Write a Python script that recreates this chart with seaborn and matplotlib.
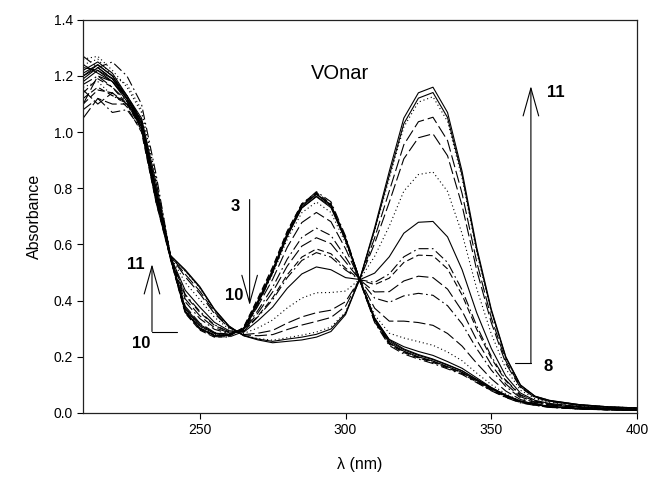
import numpy as np
import pandas as pd
import matplotlib
matplotlib.use("Agg")
import matplotlib.pyplot as plt
import seaborn as sns

# wavelength grid (nm)
WAVELENGTH = [210, 215, 220, 225, 230, 235, 240, 245, 250, 255, 260, 265, 270, 275, 280,
              285, 290, 295, 300, 305, 310, 315, 320, 325, 330, 335, 340, 345, 350, 355,
              360, 365, 370, 380, 390, 400]

SPEC_01 = [1.22, 1.25, 1.21, 1.13, 1.05, 0.82, 0.56, 0.51, 0.45, 0.37, 0.31, 0.275, 0.26, 0.25, 0.255,
           0.26, 0.27, 0.29, 0.35, 0.48, 0.66, 0.86, 1.05, 1.14, 1.16, 1.07, 0.86, 0.59, 0.37, 0.20,
           0.10, 0.06, 0.045, 0.03, 0.022, 0.018]
SPEC_02 = [1.20, 1.24, 1.20, 1.12, 1.04, 0.80, 0.56, 0.507, 0.447, 0.368, 0.309, 0.276, 0.263, 0.255, 0.263,
           0.27, 0.28, 0.299, 0.355, 0.48, 0.653, 0.845, 1.03, 1.121, 1.141, 1.052, 0.846, 0.581, 0.364, 0.197,
           0.099, 0.059, 0.044, 0.03, 0.022, 0.018]
SPEC_03 = [1.26, 1.27, 1.22, 1.16, 1.07, 0.84, 0.56, 0.505, 0.445, 0.367, 0.309, 0.276, 0.265, 0.259, 0.268,
           0.277, 0.288, 0.306, 0.359, 0.48, 0.648, 0.835, 1.018, 1.107, 1.126, 1.038, 0.835, 0.573, 0.36, 0.195,
           0.098, 0.059, 0.044, 0.029, 0.022, 0.018]
SPEC_04 = [1.10, 1.20, 1.18, 1.12, 1.04, 0.80, 0.559, 0.494, 0.434, 0.36, 0.306, 0.278, 0.275, 0.279, 0.297,
           0.313, 0.326, 0.34, 0.38, 0.479, 0.624, 0.79, 0.955, 1.037, 1.053, 0.97, 0.781, 0.538, 0.339, 0.185,
           0.093, 0.057, 0.042, 0.028, 0.021, 0.017]
SPEC_05 = [1.05, 1.12, 1.10, 1.10, 1.03, 0.79, 0.558, 0.485, 0.425, 0.354, 0.304, 0.279, 0.284, 0.294, 0.32,
           0.342, 0.357, 0.366, 0.396, 0.478, 0.604, 0.75, 0.905, 0.98, 0.994, 0.916, 0.738, 0.509, 0.322, 0.176,
           0.09, 0.055, 0.041, 0.027, 0.02, 0.017]
SPEC_06 = [1.24, 1.26, 1.20, 1.17, 1.08, 0.83, 0.557, 0.464, 0.404, 0.341, 0.299, 0.283, 0.303, 0.331, 0.374,
           0.409, 0.428, 0.429, 0.434, 0.477, 0.558, 0.665, 0.79, 0.849, 0.858, 0.789, 0.638, 0.443, 0.282, 0.157,
           0.081, 0.051, 0.038, 0.025, 0.019, 0.016]
SPEC_07 = [1.18, 1.22, 1.19, 1.12, 1.03, 0.78, 0.555, 0.437, 0.377, 0.323, 0.293, 0.287, 0.329, 0.377, 0.444,
           0.495, 0.52, 0.51, 0.482, 0.475, 0.498, 0.556, 0.64, 0.679, 0.682, 0.627, 0.51, 0.357, 0.23, 0.131,
           0.071, 0.045, 0.034, 0.023, 0.017, 0.014]
SPEC_08 = [1.27, 1.23, 1.25, 1.20, 1.10, 0.85, 0.554, 0.422, 0.362, 0.314, 0.289, 0.29, 0.343, 0.403, 0.482,
           0.543, 0.571, 0.555, 0.509, 0.474, 0.465, 0.495, 0.556, 0.585, 0.585, 0.536, 0.438, 0.31, 0.202, 0.117,
           0.065, 0.042, 0.031, 0.021, 0.016, 0.013]
SPEC_09 = [1.12, 1.16, 1.13, 1.11, 1.02, 0.77, 0.554, 0.418, 0.358, 0.312, 0.288, 0.29, 0.346, 0.41, 0.492,
           0.555, 0.584, 0.567, 0.516, 0.474, 0.457, 0.48, 0.536, 0.562, 0.56, 0.513, 0.42, 0.298, 0.195, 0.114,
           0.063, 0.042, 0.031, 0.021, 0.016, 0.013]
SPEC_10 = [1.15, 1.10, 1.14, 1.10, 1.02, 0.78, 0.553, 0.406, 0.346, 0.304, 0.286, 0.292, 0.357, 0.431, 0.523,
           0.594, 0.624, 0.603, 0.538, 0.473, 0.431, 0.432, 0.47, 0.487, 0.482, 0.441, 0.363, 0.26, 0.172, 0.103,
           0.058, 0.039, 0.029, 0.02, 0.015, 0.012]
SPEC_11 = [1.08, 1.12, 1.07, 1.08, 1.01, 0.77, 0.552, 0.396, 0.336, 0.298, 0.283, 0.294, 0.366, 0.448, 0.548,
           0.625, 0.658, 0.632, 0.555, 0.472, 0.409, 0.394, 0.417, 0.426, 0.419, 0.382, 0.317, 0.229, 0.153, 0.094,
           0.054, 0.037, 0.028, 0.019, 0.014, 0.012]
SPEC_12 = [1.20, 1.23, 1.19, 1.13, 1.04, 0.79, 0.551, 0.38, 0.32, 0.287, 0.28, 0.297, 0.382, 0.476, 0.59,
           0.678, 0.714, 0.681, 0.585, 0.471, 0.373, 0.327, 0.327, 0.322, 0.312, 0.283, 0.238, 0.177, 0.122, 0.078,
           0.048, 0.034, 0.025, 0.017, 0.013, 0.011]
SPEC_13 = [1.16, 1.18, 1.13, 1.10, 1.02, 0.76, 0.55, 0.369, 0.309, 0.28, 0.277, 0.299, 0.392, 0.495, 0.618,
           0.713, 0.751, 0.714, 0.605, 0.47, 0.349, 0.284, 0.267, 0.254, 0.241, 0.217, 0.186, 0.142, 0.101, 0.068,
           0.043, 0.032, 0.023, 0.016, 0.013, 0.01]
SPEC_14 = [1.23, 1.22, 1.18, 1.11, 1.02, 0.76, 0.55, 0.363, 0.303, 0.277, 0.276, 0.30, 0.397, 0.505, 0.632,
           0.73, 0.77, 0.731, 0.615, 0.47, 0.337, 0.262, 0.236, 0.219, 0.205, 0.183, 0.159, 0.125, 0.091, 0.063,
           0.041, 0.031, 0.022, 0.015, 0.012, 0.01]
SPEC_15 = [1.19, 1.23, 1.19, 1.12, 1.02, 0.77, 0.55, 0.36, 0.30, 0.275, 0.275, 0.30, 0.40, 0.51, 0.64,
           0.74, 0.78, 0.74, 0.62, 0.47, 0.33, 0.25, 0.22, 0.20, 0.185, 0.165, 0.145, 0.115, 0.085, 0.06,
           0.04, 0.03, 0.022, 0.015, 0.012, 0.01]
SPEC_16 = [1.14, 1.19, 1.16, 1.10, 1.01, 0.75, 0.545, 0.355, 0.295, 0.27, 0.272, 0.305, 0.41, 0.52, 0.648,
           0.745, 0.785, 0.745, 0.625, 0.468, 0.325, 0.245, 0.215, 0.196, 0.18, 0.16, 0.14, 0.11, 0.08, 0.056,
           0.037, 0.028, 0.02, 0.014, 0.011, 0.009]
SPEC_17 = [1.21, 1.24, 1.20, 1.13, 1.04, 0.79, 0.552, 0.37, 0.31, 0.283, 0.28, 0.298, 0.392, 0.50, 0.628,
           0.73, 0.772, 0.736, 0.618, 0.472, 0.338, 0.26, 0.228, 0.208, 0.192, 0.172, 0.15, 0.12, 0.09, 0.064,
           0.043, 0.032, 0.024, 0.016, 0.013, 0.011]
SPEC_18 = [1.17, 1.20, 1.16, 1.11, 1.01, 0.76, 0.548, 0.358, 0.298, 0.272, 0.27, 0.29, 0.385, 0.50, 0.635,
           0.742, 0.788, 0.752, 0.63, 0.469, 0.322, 0.24, 0.21, 0.192, 0.176, 0.157, 0.137, 0.108, 0.079, 0.055,
           0.036, 0.027, 0.02, 0.014, 0.011, 0.009]
SPEC_19 = [1.24, 1.21, 1.18, 1.12, 1.03, 0.78, 0.553, 0.375, 0.315, 0.285, 0.279, 0.30, 0.395, 0.505, 0.635,
           0.735, 0.778, 0.742, 0.622, 0.471, 0.333, 0.255, 0.225, 0.205, 0.19, 0.17, 0.15, 0.118, 0.088, 0.062,
           0.042, 0.031, 0.023, 0.016, 0.012, 0.01]
SPEC_20 = [1.10, 1.15, 1.14, 1.09, 1.00, 0.75, 0.55, 0.362, 0.302, 0.278, 0.278, 0.303, 0.405, 0.515, 0.645,
           0.744, 0.782, 0.738, 0.615, 0.466, 0.328, 0.248, 0.218, 0.198, 0.183, 0.163, 0.143, 0.113, 0.083, 0.058,
           0.039, 0.029, 0.021, 0.015, 0.011, 0.01]

SPECTRA = [SPEC_01, SPEC_02, SPEC_03, SPEC_04, SPEC_05, SPEC_06, SPEC_07, SPEC_08, SPEC_09, SPEC_10,
           SPEC_11, SPEC_12, SPEC_13, SPEC_14, SPEC_15, SPEC_16, SPEC_17, SPEC_18, SPEC_19, SPEC_20]

# line style of each spectrum
SOLID, DASH, LONGDASH, DASHDOT, DOT = "", (6, 3), (11, 3.5), (9, 3, 1.5, 3), (1, 2.5)
LINE_STYLES = [SOLID, SOLID, DOT, LONGDASH, LONGDASH, DOT, SOLID, DASHDOT, DASH, LONGDASH,
               DASHDOT, LONGDASH, DOT, SOLID, SOLID, DASH, SOLID, DASHDOT, SOLID, DASH]

# long format for seaborn
rows = []
for i, spec in enumerate(SPECTRA):
    for wl, a in zip(WAVELENGTH, spec):
        rows.append({"wavelength": wl, "absorbance": a, "spectrum": i + 1})
df = pd.DataFrame(rows)

sns.set_style("ticks")
plt.rcParams["font.family"] = ["Liberation Sans", "DejaVu Sans"]
plt.rcParams["text.color"] = "black"
plt.rcParams["axes.labelcolor"] = "black"
plt.rcParams["xtick.color"] = "black"
plt.rcParams["ytick.color"] = "black"

fig = plt.figure(figsize=(6.5, 4.83), dpi=100)
ax = fig.add_axes([0.128, 0.145, 0.852, 0.814])

sns.lineplot(data=df, x="wavelength", y="absorbance", hue="spectrum", style="spectrum",
             palette=["black"] * len(SPECTRA), dashes=LINE_STYLES, linewidth=0.8,
             estimator=None, sort=False, legend=False, ax=ax)

ax.set_xlim(210, 400)
ax.set_ylim(0, 1.4)
ax.set_xticks([250, 300, 350, 400])
ax.set_yticks(np.arange(0, 1.41, 0.2))
ax.set_yticklabels([f"{v:.1f}" for v in np.arange(0, 1.41, 0.2)])
ax.set_xlabel("λ (nm)", fontsize=11.5, labelpad=14)
ax.set_ylabel("Absorbance", fontsize=11.5, labelpad=8)
ax.tick_params(axis="both", labelsize=10, length=4, width=0.8, direction="out")
for side in ["top", "right", "left", "bottom"]:
    ax.spines[side].set_visible(True)
    ax.spines[side].set_linewidth(0.9)
    ax.spines[side].set_color("#222222")

# title inside plot
ax.text(298, 1.21, "VOnar", fontsize=14.5, ha="center", va="center")

# arrows showing spectral changes
arrow = dict(arrowstyle="->,head_length=1.0,head_width=0.28", lw=0.8, color="black",
             shrinkA=0, shrinkB=0, mutation_scale=20)
bold = dict(fontsize=12, fontweight="bold", va="center")

# 330 nm band: 8 -> 11
ax.annotate("", xy=(363.6, 1.164), xytext=(363.6, 0.177), arrowprops=arrow)
ax.plot([358, 363.6], [0.177, 0.177], color="black", lw=0.8)
ax.text(369, 1.14, "11", ha="left", **bold)
ax.text(367.8, 0.167, "8", ha="left", **bold)

# 290 nm band: 3 -> 10
ax.annotate("", xy=(267.1, 0.384), xytext=(267.1, 0.76), arrowprops=arrow)
ax.text(262.3, 0.734, "3", ha="center", **bold)
ax.text(261.8, 0.418, "10", ha="center", **bold)

# 250 nm shoulder: 10 -> 11
ax.annotate("", xy=(233.6, 0.53), xytext=(233.6, 0.29), arrowprops=arrow)
ax.plot([233.6, 242.2], [0.29, 0.29], color="black", lw=0.8)
ax.text(227.9, 0.527, "11", ha="center", **bold)
ax.text(229.9, 0.248, "10", ha="center", **bold)

fig.savefig("out.png", dpi=100)
plt.close(fig)
